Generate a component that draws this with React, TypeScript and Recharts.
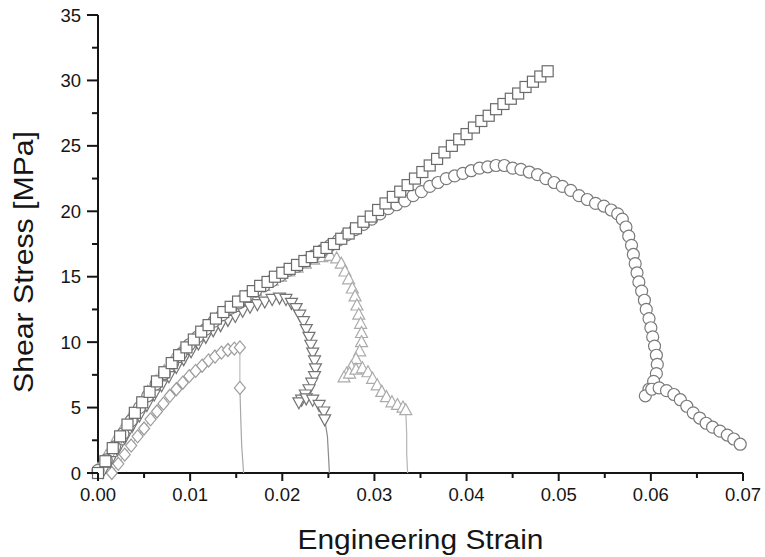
import React from 'react';
import { ScatterChart, Scatter, XAxis, YAxis } from 'recharts';

// strain / stress pairs
const squarePts: number[][] = [
  [0, 0], [0.0008, 0.9], [0.0016, 1.9], [0.0024, 2.8], [0.0032, 3.7], [0.004, 4.6], [0.0048, 5.4],
  [0.0056, 6.2], [0.0064, 7.0], [0.0072, 7.7], [0.008, 8.4], [0.0088, 9.0], [0.0096, 9.6], [0.0104, 10.2],
  [0.0112, 10.8], [0.012, 11.3], [0.0128, 11.8], [0.0136, 12.3], [0.0144, 12.7], [0.0152, 13.1], [0.016, 13.5],
  [0.0168, 13.9], [0.0176, 14.3], [0.0184, 14.6], [0.0192, 15.0], [0.02, 15.3], [0.0208, 15.6], [0.0216, 15.9],
  [0.0224, 16.2], [0.0232, 16.5], [0.024, 16.9], [0.0248, 17.2], [0.0256, 17.5], [0.0264, 17.9], [0.0272, 18.3],
  [0.028, 18.7], [0.0288, 19.2], [0.0296, 19.6], [0.0304, 20.1], [0.0312, 20.6], [0.032, 21.1], [0.0328, 21.5],
  [0.0336, 22.0], [0.0344, 22.5], [0.0352, 23.0], [0.036, 23.5], [0.0368, 24.0], [0.0376, 24.5], [0.0384, 25.0],
  [0.0392, 25.5], [0.04, 25.9], [0.0408, 26.4], [0.0416, 26.9], [0.0424, 27.3], [0.0432, 27.8], [0.044, 28.2],
  [0.0448, 28.6], [0.0456, 29.0], [0.0464, 29.5], [0.0472, 29.9], [0.048, 30.3], [0.0488, 30.7],
];

const circlePts: number[][] = [
  [0, 0.2], [0.0009, 1.0], [0.0018, 2.0], [0.0027, 3.0], [0.0036, 4.0], [0.0045, 5.0], [0.0054, 5.9],
  [0.0063, 6.8], [0.0072, 7.6], [0.0081, 8.4], [0.009, 9.1], [0.0099, 9.8], [0.0108, 10.4], [0.0117, 11.0],
  [0.0126, 11.6], [0.0135, 12.1], [0.0144, 12.6], [0.0153, 13.0], [0.0162, 13.5], [0.0171, 13.9], [0.018, 14.3],
  [0.0189, 14.7], [0.0198, 15.1], [0.0207, 15.5], [0.0216, 15.8], [0.0225, 16.2], [0.0234, 16.6], [0.0243, 17.0],
  [0.0252, 17.4], [0.0261, 17.8], [0.027, 18.2], [0.0279, 18.6], [0.0288, 19.0], [0.0297, 19.4], [0.0306, 19.8],
  [0.0315, 20.2], [0.0324, 20.5], [0.0333, 20.8], [0.0342, 21.2], [0.0351, 21.5], [0.036, 21.9], [0.0369, 22.2],
  [0.0378, 22.5], [0.0387, 22.7], [0.0396, 22.9], [0.0405, 23.1], [0.0414, 23.3], [0.0423, 23.4], [0.0432, 23.5],
  [0.0441, 23.5], [0.045, 23.3], [0.0459, 23.2], [0.0468, 23.0], [0.0477, 22.8], [0.0486, 22.5], [0.0495, 22.2],
  [0.0504, 21.9], [0.0513, 21.6], [0.0522, 21.2], [0.0531, 20.9], [0.054, 20.6], [0.0549, 20.4], [0.0557, 20.1],
  [0.0564, 19.8], [0.0569, 19.4], [0.0573, 18.8], [0.0576, 18.1], [0.0579, 17.4], [0.0581, 16.7], [0.0583, 16.0],
  [0.0585, 15.3], [0.0587, 14.6], [0.059, 13.9], [0.0593, 13.2], [0.0595, 12.5], [0.0598, 11.8], [0.06, 11.1],
  [0.0602, 10.4], [0.0604, 9.7], [0.0606, 9.0], [0.0607, 8.3], [0.0606, 7.6], [0.0603, 7.0], [0.0598, 6.4],
  [0.0594, 5.9], [0.0601, 6.4], [0.0609, 6.5], [0.0617, 6.3], [0.0625, 6.0], [0.0632, 5.6], [0.0639, 5.1],
  [0.0646, 4.6], [0.0653, 4.2], [0.066, 3.8], [0.0667, 3.5], [0.0675, 3.2], [0.0683, 2.9], [0.069, 2.6],
  [0.0697, 2.2],
];

const downTriPts: number[][] = [
  [0.0005, 0.1], [0.0013, 0.9], [0.0021, 1.8], [0.0029, 2.7], [0.0037, 3.6], [0.0045, 4.4], [0.0053, 5.2],
  [0.0061, 6.0], [0.0069, 6.7], [0.0077, 7.4], [0.0085, 8.1], [0.0093, 8.7], [0.0101, 9.3], [0.0109, 9.9],
  [0.0117, 10.4], [0.0125, 10.9], [0.0133, 11.3], [0.0141, 11.7], [0.0149, 12.0], [0.0157, 12.4], [0.0165, 12.7],
  [0.0173, 12.9], [0.0181, 13.1], [0.0189, 13.3], [0.0197, 13.4], [0.0204, 13.3], [0.021, 13.0], [0.0215, 12.6],
  [0.0219, 12.1], [0.0223, 11.6], [0.0226, 11.0], [0.0229, 10.4], [0.0231, 9.8], [0.0233, 9.2], [0.0235, 8.6],
  [0.0236, 8.0], [0.0235, 7.4], [0.0232, 6.9], [0.0229, 6.4], [0.0225, 6.0], [0.0221, 5.6], [0.0218, 5.4],
  [0.0226, 5.7], [0.0233, 5.6], [0.024, 5.2], [0.0245, 4.7], [0.0246, 4.1],
];
const downTriTail: number[][] = [[0.0246, 4.1], [0.0249, 2.8], [0.025, 1.5], [0.0251, 0.2], [0.0251, 0]];

const upTriPts: number[][] = [
  [0, 0.3], [0.0009, 1.3], [0.0018, 2.4], [0.0027, 3.4], [0.0036, 4.4], [0.0045, 5.3], [0.0054, 6.2],
  [0.0063, 7.0], [0.0072, 7.8], [0.0081, 8.6], [0.009, 9.3], [0.0099, 9.9], [0.0108, 10.5], [0.0117, 11.1],
  [0.0126, 11.6], [0.0135, 12.1], [0.0144, 12.6], [0.0153, 13.1], [0.0162, 13.5], [0.0171, 13.9], [0.018, 14.3],
  [0.0189, 14.7], [0.0198, 15.0], [0.0207, 15.4], [0.0216, 15.7], [0.0225, 16.0], [0.0234, 16.3], [0.0243, 16.5],
  [0.0252, 16.6], [0.0259, 16.4], [0.0264, 16.0], [0.0268, 15.4], [0.0272, 14.8], [0.0276, 14.1], [0.0279, 13.5],
  [0.0281, 12.8], [0.0283, 12.1], [0.0285, 11.4], [0.0286, 10.7], [0.0286, 10.0], [0.0284, 9.3], [0.028, 8.7],
  [0.0275, 8.1], [0.027, 7.6], [0.0267, 7.3], [0.0273, 7.6], [0.028, 7.9], [0.0287, 8.0], [0.0293, 7.7],
  [0.0298, 7.2], [0.0303, 6.7], [0.0308, 6.2], [0.0313, 5.8], [0.0319, 5.4], [0.0325, 5.2], [0.0331, 5.0],
  [0.0334, 4.8],
];
const upTriTail: number[][] = [[0.0334, 4.8], [0.0335, 3.0], [0.0335, 1.5], [0.0336, 0]];

const diamondPts: number[][] = [
  [0.0015, 0.0], [0.0022, 0.7], [0.0029, 1.4], [0.0036, 2.1], [0.0043, 2.8], [0.005, 3.4], [0.0057, 4.1],
  [0.0064, 4.7], [0.0071, 5.3], [0.0078, 5.9], [0.0085, 6.4], [0.0092, 6.9], [0.0099, 7.4], [0.0106, 7.8],
  [0.0113, 8.2], [0.012, 8.6], [0.0127, 8.9], [0.0134, 9.2], [0.0141, 9.4], [0.0148, 9.5], [0.0154, 9.6],
  [0.0154, 6.5],
];
const diamondTail: number[][] = [[0.0154, 6.5], [0.0155, 4.0], [0.0156, 2.0], [0.0158, 0]];

const xTicks = [0, 0.005, 0.01, 0.015, 0.02, 0.025, 0.03, 0.035, 0.04, 0.045, 0.05, 0.055, 0.06, 0.065, 0.07];
const yTicks = [0, 2.5, 5, 7.5, 10, 12.5, 15, 17.5, 20, 22.5, 25, 27.5, 30, 32.5, 35];

const FONT = '"Liberation Sans", Arial, sans-serif';
const INK = '#151515';

const toRows = (pts: number[][]) => pts.map(([x, y]) => ({ x, y }));

const XTick = (props: any) => {
  const { x, y, payload } = props;
  const v = payload.value;
  const major = Math.round(v * 200) % 2 === 0;
  return (
    <g>
      <line x1={x} x2={x} y1={y} y2={y + (major ? 8 : 5)} stroke={INK} strokeWidth={2} />
      {major && (
        <text x={x} y={y + 28} textAnchor="middle" fontSize={18.5} fontFamily={FONT} fill={INK}>
          {v.toFixed(2)}
        </text>
      )}
    </g>
  );
};

const YTick = (props: any) => {
  const { x, y, payload } = props;
  const v = payload.value;
  const major = v % 5 === 0;
  return (
    <g>
      <line x1={x - (major ? 11 : 6)} x2={x} y1={y} y2={y} stroke={INK} strokeWidth={2} />
      {major && (
        <text x={x - 17} y={y + 6.5} textAnchor="end" fontSize={18.5} fontFamily={FONT} fill={INK}>
          {v}
        </text>
      )}
    </g>
  );
};

const marker = (kind: string, color: string) => (props: any) => {
  const { cx, cy } = props;
  if (cx == null || cy == null) return <g />;
  const common = { fill: '#fff', stroke: color, strokeWidth: 1.2 };
  switch (kind) {
    case 'square':
      return <rect x={cx - 5.5} y={cy - 5.5} width={11} height={11} {...common} />;
    case 'circle':
      return <circle cx={cx} cy={cy} r={6} {...common} />;
    case 'diamond':
      return <polygon points={`${cx},${cy - 6.5} ${cx + 5.5},${cy} ${cx},${cy + 6.5} ${cx - 5.5},${cy}`} {...common} />;
    case 'up':
      return <polygon points={`${cx},${cy - 6.5} ${cx + 6},${cy + 4.5} ${cx - 6},${cy + 4.5}`} {...common} />;
    case 'down':
      return <polygon points={`${cx},${cy + 6.5} ${cx + 6},${cy - 4.5} ${cx - 6},${cy - 4.5}`} {...common} />;
    default:
      return <g />;
  }
};

const noMarker = () => <g />;

const XTitle = (props: any) => {
  const vb = props.viewBox || { x: 98, y: 473, width: 645 };
  return (
    <text x={vb.x + vb.width / 2} y={vb.y + 76} textAnchor="middle" fontSize={27} fontFamily={FONT} fill={INK}
      textLength={246} lengthAdjust="spacingAndGlyphs">
      Engineering Strain
    </text>
  );
};

const YTitle = () => (
  <text x={0} y={0} transform="translate(33,262) rotate(-90)" textAnchor="middle" fontSize={27} fontFamily={FONT}
    fill={INK} textLength={262} lengthAdjust="spacingAndGlyphs">
    Shear Stress [MPa]
  </text>
);

export default function App() {
  return (
    <div style={{ position: 'absolute', left: 0, top: 0, background: '#fff' }}>
      <ScatterChart width={765} height={557} margin={{ top: 15, right: 22, bottom: 0, left: 0 }}>
        <XAxis type="number" dataKey="x" domain={[0, 0.07]} ticks={xTicks} interval={0} tickSize={0} tickMargin={0}
          tick={<XTick />} height={84} axisLine={{ stroke: INK, strokeWidth: 2 }} label={<XTitle />} />
        <YAxis type="number" dataKey="y" domain={[0, 35]} ticks={yTicks} interval={0} tickSize={0} tickMargin={0}
          tick={<YTick />} width={98} axisLine={{ stroke: INK, strokeWidth: 2 }} label={<YTitle />} />
        <Scatter data={toRows(upTriTail)} line={{ stroke: '#b5b5b5', strokeWidth: 1.2 }} lineType="joint"
          shape={noMarker} isAnimationActive={false} />
        <Scatter data={toRows(diamondTail)} line={{ stroke: '#a8a8a8', strokeWidth: 1.2 }} lineType="joint"
          shape={noMarker} isAnimationActive={false} />
        <Scatter data={toRows(downTriTail)} line={{ stroke: '#8a8a8a', strokeWidth: 1.2 }} lineType="joint"
          shape={noMarker} isAnimationActive={false} />
        <Scatter data={toRows(upTriPts)} line={{ stroke: '#c0c0c0', strokeWidth: 1 }} lineType="joint"
          shape={marker('up', '#ababab')} isAnimationActive={false} />
        <Scatter data={toRows(diamondPts)} line={{ stroke: '#b0b0b0', strokeWidth: 1 }} lineType="joint"
          shape={marker('diamond', '#9c9c9c')} isAnimationActive={false} />
        <Scatter data={toRows(downTriPts)} line={{ stroke: '#909090', strokeWidth: 1 }} lineType="joint"
          shape={marker('down', '#747474')} isAnimationActive={false} />
        <Scatter data={toRows(circlePts)} line={{ stroke: '#a0a0a0', strokeWidth: 1 }} lineType="joint"
          shape={marker('circle', '#7a7a7a')} isAnimationActive={false} />
        <Scatter data={toRows(squarePts)} line={{ stroke: '#8a8a8a', strokeWidth: 1 }} lineType="joint"
          shape={marker('square', '#6a6a6a')} isAnimationActive={false} />
      </ScatterChart>
    </div>
  );
}
